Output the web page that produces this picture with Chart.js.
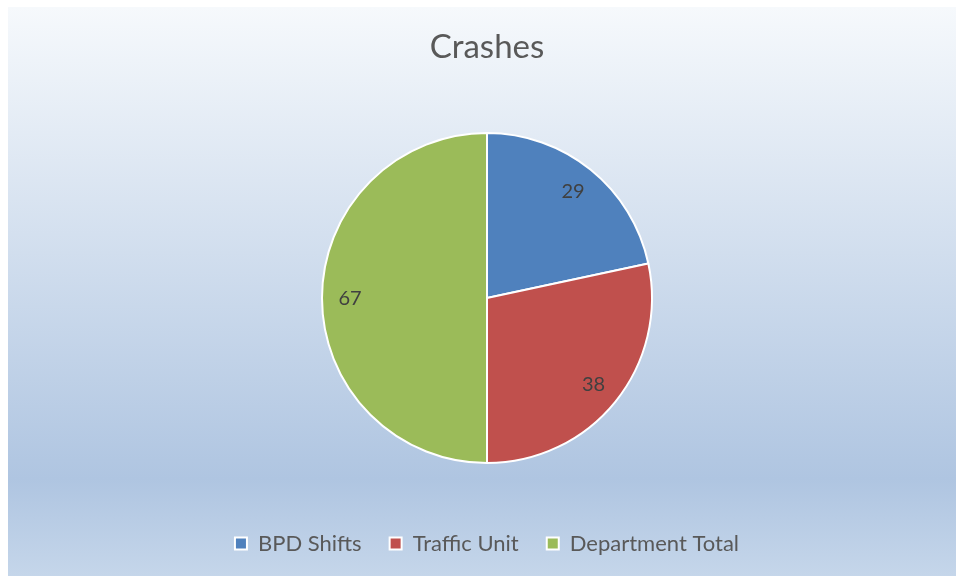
<!DOCTYPE html>
<html>
<head>
<meta charset="utf-8">
<script src="https://cdn.jsdelivr.net/npm/chart.js@4"></script>
<style>
  html, body { margin: 0; padding: 0; background: #fff; overflow: hidden; }
  #wrap {
    position: absolute; left: 8px; top: 7px; width: 948px; height: 569px; overflow: hidden;
    background: linear-gradient(to bottom, #f6f9fc 0%, #afc5e1 83%, #c5d6ea 100%);
  }
  #box { position: absolute; left: 0; top: 0; width: 948px; height: 574px; }
</style>
</head>
<body>
<div id="wrap"><div id="box"><canvas id="grafico"></canvas></div></div>
<script>
const categorias = ['BPD Shifts', 'Traffic Unit', 'Department Total'];
const valores = [29, 38, 67];
const cores = ['#4f81bd', '#c0504d', '#9bbb59'];

// rótulos dos valores dentro das fatias
const rotulos = {
  id: 'rotulos',
  afterDatasetsDraw(chart) {
    const ctx = chart.ctx;
    const meta = chart.getDatasetMeta(0);
    ctx.save();
    ctx.font = '20px Lato';
    ctx.fillStyle = '#404040';
    ctx.textAlign = 'center';
    ctx.textBaseline = 'middle';
    meta.data.forEach((arc, i) => {
      const p = arc.getProps(['x', 'y', 'startAngle', 'endAngle', 'outerRadius']);
      const meio = (p.startAngle + p.endAngle) / 2;
      const r = p.outerRadius * 0.83;
      ctx.fillText(String(valores[i]), p.x + Math.cos(meio) * r, p.y + Math.sin(meio) * r);
    });
    ctx.restore();
  }
};

new Chart(document.getElementById('grafico'), {
  type: 'pie',
  data: {
    labels: categorias,
    datasets: [{
      data: valores,
      backgroundColor: cores,
      borderColor: '#ffffff',
      borderWidth: 2
    }]
  },
  options: {
    responsive: true,
    maintainAspectRatio: false,
    animation: false,
    radius: 165,
    layout: { padding: { left: 10, right: 0, top: 0, bottom: 16.5 } },
    plugins: {
      tooltip: { enabled: false },
      title: {
        display: true,
        text: 'Crashes',
        color: '#595959',
        font: { family: 'Lato', size: 33, weight: 'normal' },
        padding: { top: 21, bottom: 24 }
      },
      legend: {
        position: 'bottom',
        labels: {
          boxWidth: 12,
          boxHeight: 12,
          padding: 28,
          color: '#595959',
          font: { family: 'Lato', size: 22 },
          generateLabels(chart) {
            return categorias.map((c, i) => ({
              text: c,
              fillStyle: cores[i],
              strokeStyle: '#ffffff',
              lineWidth: 2,
              fontColor: '#595959',
              index: i
            }));
          }
        }
      }
    }
  },
  plugins: [rotulos]
});
</script>
</body>
</html>
